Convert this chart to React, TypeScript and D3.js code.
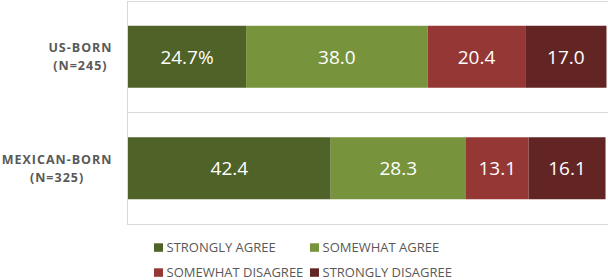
import React, { useEffect, useRef } from "react";
import * as d3 from "d3";

const categoryNames = ["US-BORN", "MEXICAN-BORN"];
const sampleSizes = ["(N=245)", "(N=325)"];
const seriesNames = ["STRONGLY AGREE", "SOMEWHAT AGREE", "SOMEWHAT DISAGREE", "STRONGLY DISAGREE"];
const stronglyAgree = [24.7, 42.4];
const somewhatAgree = [38.0, 28.3];
const somewhatDisagree = [20.4, 13.1];
const stronglyDisagree = [17.0, 16.1];
const seriesColors = ["#4f6228", "#77933c", "#953735", "#632523"];

const W = 608;
const H = 280;

export default function App() {
  const ref = useRef<SVGSVGElement | null>(null);

  useEffect(() => {
    const svg = d3.select(ref.current);
    svg.selectAll("*").remove();

    const rows = categoryNames.map((c, i) => ({
      cat: c,
      [seriesNames[0]]: stronglyAgree[i],
      [seriesNames[1]]: somewhatAgree[i],
      [seriesNames[2]]: somewhatDisagree[i],
      [seriesNames[3]]: stronglyDisagree[i],
    }));
    const stack = d3.stack<any>().keys(seriesNames)(rows);

    const x = d3.scaleLinear().domain([0, 100]).range([128, 606]);
    const y = d3
      .scaleBand<string>()
      .domain(categoryNames)
      .range([1, 224])
      .paddingInner(0.444)
      .paddingOuter(0.222);
    const color = d3.scaleOrdinal<string, string>().domain(seriesNames).range(seriesColors);

    // frame / grid
    const grid = svg.append("g").attr("stroke", "#d9d9d9").attr("stroke-width", 1);
    const sepYs = [1, 112, 224];
    grid
      .selectAll("line.h")
      .data(sepYs)
      .join("line")
      .attr("x1", 127)
      .attr("x2", W)
      .attr("y1", (d) => d + 0.5)
      .attr("y2", (d) => d + 0.5);
    grid
      .append("line")
      .attr("x1", 127.5)
      .attr("x2", 127.5)
      .attr("y1", 1)
      .attr("y2", 225);

    // bars
    const layers = svg
      .append("g")
      .selectAll("g")
      .data(stack)
      .join("g")
      .attr("fill", (d) => color(d.key));
    layers
      .selectAll("rect")
      .data((d) => d.map((p) => ({ p, key: (d as any).key })))
      .join("rect")
      .attr("x", (d) => x(d.p[0]))
      .attr("width", (d) => x(d.p[1]) - x(d.p[0]))
      .attr("y", (d) => y(d.p.data.cat)!)
      .attr("height", y.bandwidth());

    // value labels
    const fmt = d3.format(".1f");
    stack.forEach((layer, si) => {
      svg
        .append("g")
        .selectAll("text")
        .data(layer)
        .join("text")
        .attr("x", (d) => (x(d[0]) + x(d[1])) / 2)
        .attr("y", (d) => y(d.data.cat)! + y.bandwidth() / 2 + 6.8)
        .attr("text-anchor", "middle")
        .attr("fill", "#ffffff")
        .attr("font-family", "'Open Sans', sans-serif")
        .attr("font-size", 19)
        .text((d, i) => fmt(d[1] - d[0]) + (si === 0 && i === 0 ? "%" : ""));
    });

    // category labels
    const labG = svg.append("g");
    categoryNames.forEach((c, i) => {
      const cy = y(c)! + y.bandwidth() / 2;
      const g = labG.append("g");
      const lines = [c, sampleSizes[i]];
      const texts = g
        .selectAll("text")
        .data(lines)
        .join("text")
        .attr("y", (_, k) => cy - 4.5 + k * 18)
        .attr("text-anchor", "middle")
        .attr("fill", "#595959")
        .attr("font-family", "'Open Sans', sans-serif")
        .attr("font-weight", "bold")
        .attr("font-size", 12.5)
        .attr("letter-spacing", 1)
        .text((d) => d);
      let maxW = 0;
      texts.each(function () {
        maxW = Math.max(maxW, (this as SVGTextElement).getComputedTextLength());
      });
      const cx = 112 - maxW / 2;
      texts.attr("x", cx + 0.5);
    });

    // legend
    const legendPos = [
      { x: 154, y: 252 },
      { x: 310, y: 252 },
      { x: 154, y: 277 },
      { x: 310, y: 277 },
    ];
    const leg = svg
      .append("g")
      .selectAll("g")
      .data(seriesNames)
      .join("g")
      .attr("transform", (_, i) => `translate(${legendPos[i].x},${legendPos[i].y})`);
    leg
      .append("rect")
      .attr("x", 0)
      .attr("y", -8.7)
      .attr("width", 9)
      .attr("height", 8.5)
      .attr("fill", (d) => color(d));
    leg
      .append("text")
      .attr("x", 12.5)
      .attr("y", 0)
      .attr("fill", "#595959")
      .attr("font-family", "'Open Sans', sans-serif")
      .attr("font-size", 13)
      .text((d) => d);
  }, []);

  return (
    <svg
      ref={ref}
      width={W}
      height={H}
      style={{ position: "absolute", left: 0, top: 0, background: "#ffffff" }}
    />
  );
}
